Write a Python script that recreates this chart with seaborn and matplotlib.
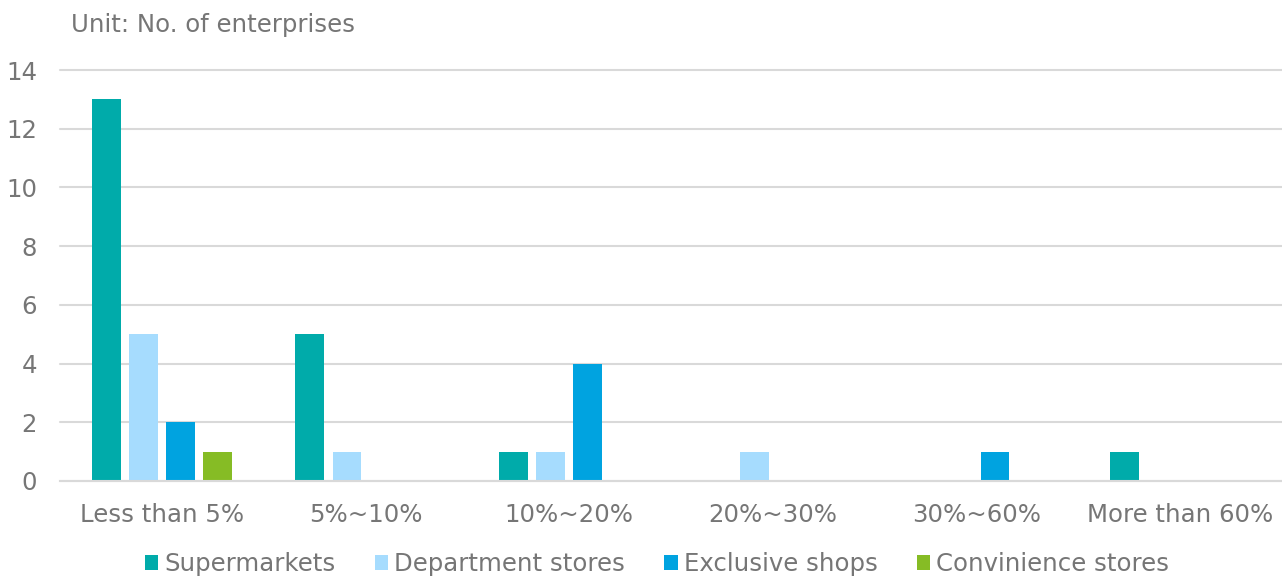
import matplotlib
matplotlib.use("Agg")
import matplotlib.pyplot as plt
from matplotlib.patches import Patch
import seaborn as sns
import pandas as pd

categories = ["Less than 5%", "5%~10%", "10%~20%", "20%~30%", "30%~60%", "More than 60%"]
series = ["Supermarkets", "Department stores", "Exclusive shops", "Convinience stores"]
supermarkets = [13, 5, 1, 0, 0, 1]
department_stores = [5, 1, 1, 1, 0, 0]
exclusive_shops = [2, 0, 4, 0, 1, 0]
convenience_stores = [1, 0, 0, 0, 0, 0]
y_ticks = [0, 2, 4, 6, 8, 10, 12, 14]

colors = ["#00ABAA", "#A6DCFE", "#00A3E0", "#86BC25"]
text_color = "#767676"
grid_color = "#D9D9D9"

values = [supermarkets, department_stores, exclusive_shops, convenience_stores]
rows = []
for name, vals in zip(series, values):
    for cat, v in zip(categories, vals):
        rows.append({"Range": cat, "Type": name, "Count": v})
df = pd.DataFrame(rows)

sns.set_theme(style="white")
plt.rcParams["font.family"] = ["DejaVu Sans"]

fs = 17.6
fig = plt.figure(figsize=(12.82, 5.76), dpi=100)
ax = fig.add_axes([60 / 1282, 1 - 481 / 576, 1 - 60 / 1282, (481 - 70) / 576])

sns.barplot(data=df, x="Range", y="Count", hue="Type", order=categories,
            hue_order=series, palette=colors, saturation=1, width=0.728, gap=0.22,
            linewidth=0, ax=ax, legend=False)

ax.set_ylim(0, 14)
ax.set_yticks(y_ticks)
ax.set_xlim(-0.5, len(categories) - 0.5)
ax.yaxis.grid(True, color=grid_color, linewidth=1.5)
for gl in ax.get_ygridlines():
    gl.set_clip_on(False)
ax.set_axisbelow(True)
for s in ["top", "right", "left"]:
    ax.spines[s].set_visible(False)
ax.spines["bottom"].set_color(grid_color)
ax.spines["bottom"].set_linewidth(1.5)
ax.set_xlabel("")
ax.set_ylabel("")
ax.tick_params(axis="y", length=0, pad=16.5, labelsize=fs, labelcolor=text_color)
ax.tick_params(axis="x", length=0, pad=16, labelsize=fs, labelcolor=text_color)

fig.text(71 / 1282, 1 - 25 / 576, "Unit: No. of enterprises", fontsize=fs,
         color=text_color, ha="left", va="center")

# Legend row sits at the very bottom edge of the figure
handles = [Patch(facecolor=c, edgecolor="none") for c in colors]
fig.legend(handles, series, loc="center", bbox_to_anchor=(657 / 1282, 1 - 564 / 576),
           ncol=4, frameon=False, fontsize=fs, labelcolor=text_color,
           handlelength=0.55, handleheight=0.55, handletextpad=0.25, columnspacing=1.6,
           borderpad=0)

fig.savefig("out.png", dpi=100)
